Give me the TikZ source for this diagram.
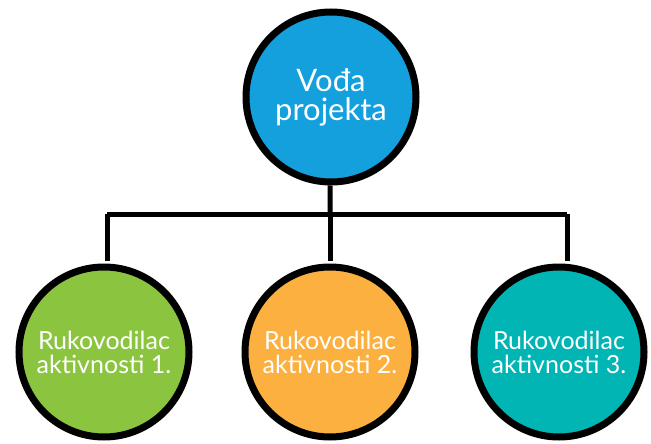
\documentclass[tikz,border=0pt]{standalone}
\usepackage{fontspec}
\setmainfont{Lato}
\definecolor{cblue}{HTML}{14A0DC}
\definecolor{cgreen}{HTML}{8BC53F}
\definecolor{corange}{HTML}{FBB040}
\definecolor{cteal}{HTML}{00B5B4}
\begin{document}
\begin{tikzpicture}[x=1pt,y=-1pt,
  bubble/.style={circle, draw=black, line width=7pt, minimum size=170pt, inner sep=0pt,
    text=white, align=center, font=\fontsize{25}{24}\selectfont},
  link/.style={line width=5pt, draw=black}]
\useasboundingbox (0,0) rectangle (651,444);
\node[bubble, fill=cblue, font=\fontsize{31}{29}\selectfont] (top) at (331,97) {Vođa\\projekta};
\node[bubble, fill=cgreen] (c1) at (104,352) {Rukovodilac\\aktivnosti 1.};
\node[bubble, fill=corange] (c2) at (330,352) {Rukovodilac\\aktivnosti 2.};
\node[bubble, fill=cteal] (c3) at (559,352) {Rukovodilac\\aktivnosti 3.};
\coordinate (jl) at (107,214);
\coordinate (jm) at (330,214);
\coordinate (jr) at (567,214);
\draw[link] (top) -- (jm);
\draw[link] (jl) -- (jr);
\draw[link, shorten >=3pt] (jl) -- (jl |- c1.north);
\draw[link, shorten >=3pt] (jm) -- (c2.north);
\draw[link, shorten >=3pt] (jr) -- (jr |- c3.north);
\end{tikzpicture}
\end{document}
